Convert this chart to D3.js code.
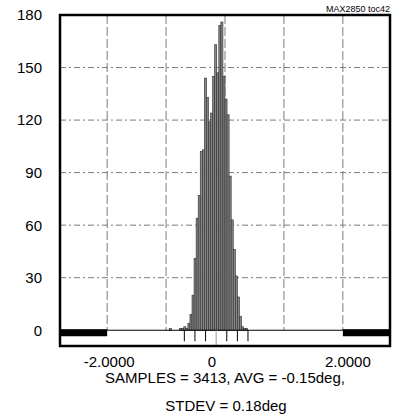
<!DOCTYPE html>
<html>
<head>
<meta charset="utf-8">
<script src="https://cdn.jsdelivr.net/npm/d3@7"></script>
<style>
  body { margin: 0; background: #fff; }
  svg { display: block; font-family: "Liberation Sans", Arial, sans-serif; }
</style>
</head>
<body>
<div id="chart"></div>
<script>
// histogram bins (deg), counts
const binStart = -0.945
const binWidth = 0.035
const counts = [1, 0, 0, 0, 0, 1, 1, 2, 1, 4, 9, 20, 41, 64, 77, 102, 103, 144, 133, 119,
    124, 145, 163, 147, 174, 176, 145, 132, 123, 88, 63, 46, 31, 19, 8, 2, 1, 1]

const xGrid = [-2, -1, 0, 1, 2]
const xTicks = [-2, 0, 2]
const xTickLabels = ["-2.0000", "0", "2.0000"]
const yTicks = [0, 30, 60, 90, 120, 150, 180]

const samples = 3413
const avg = -0.15
const stdev = 0.18
const sigmaMarks = [-3, -2, -1, 0, 1, 2, 3]

const width = 394, height = 420

const x = d3.scaleLinear().domain([-2.8, 2.8]).range([60, 390])
const y = d3.scaleLinear().domain([-9, 180]).range([346, 15])

const svg = d3.select("#chart").append("svg")
    .attr("width", width)
    .attr("height", height)

// horizontal grid (dash-dot)
svg.append("g")
    .selectAll("line")
    .data(yTicks.filter(d => d > 0 && d < 180))
    .join("line")
    .attr("x1", x(-2.8)).attr("x2", x(2.8))
    .attr("y1", d => y(d)).attr("y2", d => y(d))
    .attr("stroke", "#7a7a7a")
    .attr("stroke-width", 1)
    .attr("stroke-dasharray", "6,3,2,3")

// vertical grid (dashed)
svg.append("g")
    .selectAll("line")
    .data(xGrid)
    .join("line")
    .attr("x1", d => x(d)).attr("x2", d => x(d))
    .attr("y1", y(180)).attr("y2", y(0))
    .attr("stroke", "#7a7a7a")
    .attr("stroke-width", 1)
    .attr("stroke-dasharray", "9,3")

// bars
const bins = counts.map((c, i) => ({x0: binStart + i * binWidth, x1: binStart + (i + 1) * binWidth, c}))
svg.append("g")
    .selectAll("rect")
    .data(bins.filter(d => d.c > 0))
    .join("rect")
    .attr("x", d => x(d.x0))
    .attr("width", d => x(d.x1) - x(d.x0))
    .attr("y", d => y(d.c))
    .attr("height", d => y(0) - y(d.c))
    .attr("fill", "#858585")
    .attr("stroke", "#2a2a2a")
    .attr("stroke-width", 0.6)

// baseline
svg.append("line")
    .attr("x1", x(-2.8)).attr("x2", x(2.8))
    .attr("y1", y(0)).attr("y2", y(0))
    .attr("stroke", "#000")
    .attr("stroke-width", 1)

// out of range bars
svg.append("g")
    .selectAll("rect")
    .data([[-2.8, -2], [2, 2.8]])
    .join("rect")
    .attr("x", d => x(d[0]))
    .attr("width", d => x(d[1]) - x(d[0]))
    .attr("y", y(0) - 1)
    .attr("height", 7)
    .attr("fill", "#000")

// avg / sigma marks
svg.append("g")
    .selectAll("line")
    .data(sigmaMarks)
    .join("line")
    .attr("x1", d => x(avg + d * stdev)).attr("x2", d => x(avg + d * stdev))
    .attr("y1", y(0))
    .attr("y2", d => d === 0 ? y(-9) : y(0) + 11)
    .attr("stroke", d => d === 0 ? "#999" : "#000")
    .attr("stroke-width", 1)

// frame
svg.append("rect")
    .attr("x", x(-2.8)).attr("y", y(180))
    .attr("width", x(2.8) - x(-2.8))
    .attr("height", y(-9) - y(180))
    .attr("fill", "none")
    .attr("stroke", "#000")
    .attr("stroke-width", 2.5)

// y labels
svg.append("g")
    .selectAll("text")
    .data(yTicks)
    .join("text")
    .attr("x", 42)
    .attr("y", d => y(d))
    .attr("dy", "0.36em")
    .attr("text-anchor", "end")
    .style("font-size", "15px")
    .text(d => d)

// x labels (0 label sits a bit left of its grid line in the original)
svg.append("g")
    .selectAll("text")
    .data(xTicks)
    .join("text")
    .attr("x", d => x(d) + (d === 0 ? -13 : d < 0 ? 2 : 5))
    .attr("y", 367)
    .attr("text-anchor", "middle")
    .style("font-size", "15px")
    .text((d, i) => xTickLabels[i])

svg.append("text")
    .attr("x", 225).attr("y", 383)
    .attr("text-anchor", "middle")
    .style("font-size", "15px")
    .text(`SAMPLES = ${samples}, AVG = ${avg.toFixed(2)}deg,`)

svg.append("text")
    .attr("x", 226).attr("y", 411)
    .attr("text-anchor", "middle")
    .style("font-size", "15px")
    .text(`STDEV = ${stdev.toFixed(2)}deg`)

svg.append("text")
    .attr("x", 390).attr("y", 12)
    .attr("text-anchor", "end")
    .style("font-size", "9px")
    .text("MAX2850 toc42")
</script>
</body>
</html>
